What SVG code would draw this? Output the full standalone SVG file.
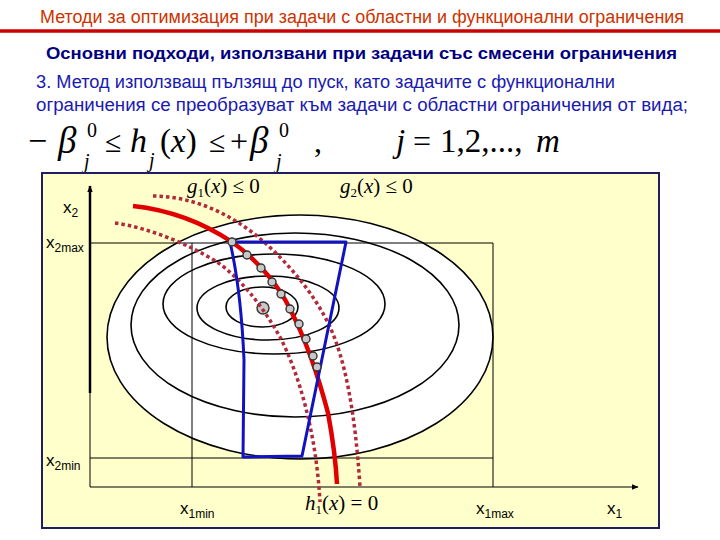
<svg xmlns="http://www.w3.org/2000/svg" width="720" height="540" viewBox="0 0 720 540">
<style>
.sans{font-family:"Liberation Sans",Arial,sans-serif}
.serif{font-family:"Liberation Serif","Times New Roman",serif}
.it{font-style:italic}
.ell{fill:none;stroke:#000;stroke-width:1.6}
.thin{stroke:#000;stroke-width:1;fill:none}
.dotr{fill:none;stroke:#B02A3A;stroke-width:3.5;stroke-dasharray:3.5 3}
.dot{fill:#C8C8C8;stroke:#333;stroke-width:1.4}
.ax{font-size:17px;fill:#000}
.axs{font-size:12px}
.m{font-size:21px;fill:#000}
</style>
<defs>
<marker id="arr" viewBox="0 0 10 10" refX="9" refY="5" markerWidth="7" markerHeight="7" orient="auto" markerUnits="userSpaceOnUse">
<path d="M0,1 L10,5 L0,9 Z" fill="#000"/>
</marker>
</defs>
<rect width="720" height="540" fill="#fff"/>
<g id="title">
<text class="sans" x="40" y="23" font-size="18" fill="#CC3300" textLength="644" lengthAdjust="spacingAndGlyphs">Методи за оптимизация при задачи с областни и функционални ограничения</text>
<line x1="0" y1="31" x2="720" y2="31" stroke="#CC0000" stroke-width="3.5"/>
</g>
<g id="subtitle">
<text class="sans" x="46" y="59" font-size="17" font-weight="bold" fill="#000080" textLength="631" lengthAdjust="spacingAndGlyphs">Основни подходи, използвани при задачи със смесени ограничения</text>
</g>
<g id="paragraph" class="sans" font-size="18" fill="#1A1AB0">
<text x="36" y="88" textLength="579" lengthAdjust="spacingAndGlyphs">3. Метод използващ пълзящ до пуск, като задачите с функционални</text>
<text x="36" y="111" textLength="652" lengthAdjust="spacingAndGlyphs">ограничения се преобразуват към задачи с областни ограничения от вида;</text>
</g>
<g id="formula" class="serif" fill="#000">
<text x="28" y="152" font-size="34">−</text>
<text x="58" y="153" font-size="37" class="it">β</text>
<text x="87" y="137" font-size="20">0</text>
<text x="84" y="168" font-size="20" class="it">j</text>
<text x="105" y="152" font-size="30">≤</text>
<text x="130" y="152" font-size="34" class="it">h</text>
<text x="149" y="167" font-size="20" class="it">j</text>
<text x="160" y="152" font-size="33">(<tspan class="it">x</tspan>)</text>
<text x="209" y="152" font-size="30">≤</text>
<text x="230" y="152" font-size="32">+</text>
<text x="250" y="153" font-size="37" class="it">β</text>
<text x="279" y="137" font-size="20">0</text>
<text x="276" y="168" font-size="20" class="it">j</text>
<text x="314" y="152" font-size="32">,</text>
<text x="396" y="152" font-size="33" class="it">j</text>
<text x="413" y="152" font-size="32">=</text>
<text x="440" y="152" font-size="33">1,2,...,</text>
<text x="536" y="152" font-size="33" class="it">m</text>
</g>
<g id="panel">
<rect x="42" y="173" width="617" height="355" fill="#FFFFCC" stroke="#1F1F5F" stroke-width="2"/>
<ellipse cx="300" cy="337" rx="193" ry="122" fill="#fff" stroke="none"/>
</g>
<g id="bounds">
<line class="thin" x1="90" y1="243" x2="493" y2="243"/>
<line class="thin" x1="90" y1="458" x2="493" y2="458"/>
<line class="thin" x1="192" y1="243" x2="192" y2="487"/>
<line class="thin" x1="493" y1="243" x2="493" y2="487"/>
</g>
<g id="axes">
<line x1="90" y1="393" x2="90" y2="186" stroke="#000" stroke-width="2.5" marker-end="url(#arr)"/>
<line class="thin" x1="90" y1="393" x2="90" y2="487"/>
<line x1="90" y1="487" x2="638" y2="487" stroke="#000" stroke-width="1.2" marker-end="url(#arr)"/>
</g>
<g id="contours">
<ellipse class="ell" cx="300" cy="337" rx="193" ry="122"/>
<ellipse class="ell" cx="295" cy="325" rx="164" ry="92"/>
<ellipse class="ell" cx="274" cy="304" rx="111" ry="50"/>
<ellipse class="ell" cx="268" cy="308" rx="71" ry="32"/>
<ellipse class="ell" cx="262" cy="307" rx="36" ry="20"/>
</g>
<g id="optimum">
<circle class="dot" cx="263" cy="308" r="6"/>
</g>
<g id="connectors">
<path class="dotr" d="M153,196 C190,196 230,212 264,242 C290,265 315,295 330,327 C345,360 355,410 360,487"/>
<path class="dotr" d="M115,223 C150,228 190,245 217,262 C240,278 262,305 280,337 C298,372 316,430 320,502"/>
<path d="M133,206 C170,210 205,224 232,242 C260,262 280,288 290,309 C305,338 318,375 328,413 C333,440 336,465 337,484" fill="none" stroke="#E00000" stroke-width="4.5"/>
<path d="M230,242 L346,242 L302,456 L243,457 L244,360 Q241,290 230,242 Z" fill="none" stroke="#1212C0" stroke-width="3" stroke-linejoin="round"/>
</g>
<g id="path-points">
<circle class="dot" cx="232" cy="242" r="4"/>
<circle class="dot" cx="247" cy="255" r="4"/>
<circle class="dot" cx="261" cy="268" r="4"/>
<circle class="dot" cx="272" cy="282" r="4"/>
<circle class="dot" cx="281" cy="294" r="4"/>
<circle class="dot" cx="290" cy="309" r="4"/>
<circle class="dot" cx="299" cy="324" r="4"/>
<circle class="dot" cx="306" cy="339" r="4"/>
<circle class="dot" cx="313" cy="356" r="4"/>
<circle class="dot" cx="317" cy="367" r="4"/>
</g>
<g id="axis-labels" class="sans ax">
<text x="63" y="213">x<tspan class="axs" dy="4">2</tspan></text>
<text x="46" y="248">x<tspan class="axs" dy="4">2max</tspan></text>
<text x="46" y="466">x<tspan class="axs" dy="4">2min</tspan></text>
<text x="180" y="514">x<tspan class="axs" dy="4">1min</tspan></text>
<text x="476" y="514">x<tspan class="axs" dy="4">1max</tspan></text>
<text x="607" y="514">x<tspan class="axs" dy="4">1</tspan></text>
</g>
<g id="constraint-labels" class="serif m">
<text x="187" y="193"><tspan class="it">g</tspan><tspan font-size="13" dy="4">1</tspan><tspan dy="-4">(</tspan><tspan class="it">x</tspan>) ≤ 0</text>
<text x="340" y="193"><tspan class="it">g</tspan><tspan font-size="13" dy="4">2</tspan><tspan dy="-4">(</tspan><tspan class="it">x</tspan>) ≤ 0</text>
<text x="305" y="510"><tspan class="it">h</tspan><tspan font-size="13" dy="4">1</tspan><tspan dy="-4">(</tspan><tspan class="it">x</tspan>) = 0</text>
</g>
</svg>
